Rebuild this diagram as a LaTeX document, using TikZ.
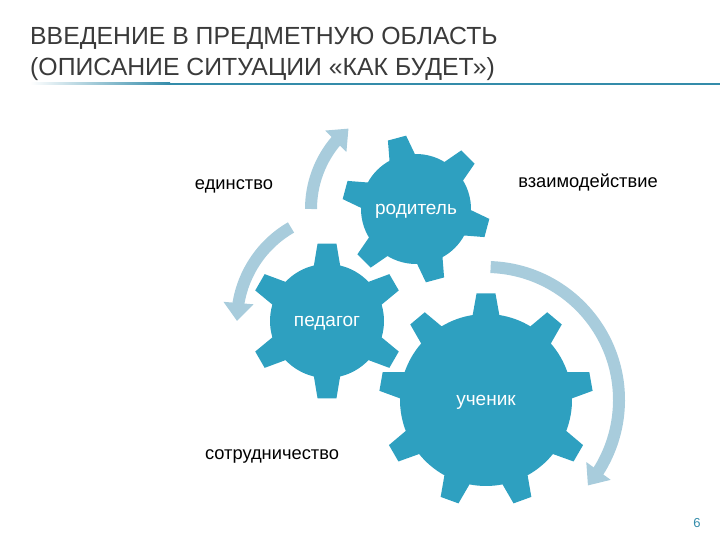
\documentclass[tikz,border=0pt]{standalone}
\usepackage{fontspec}
\setmainfont{Liberation Sans}
\usepackage{tikz}
\usetikzlibrary{arrows.meta, bending, backgrounds}

\definecolor{gearblue}{RGB}{46,160,192}
\definecolor{cycleblue}{RGB}{168,204,220}
\definecolor{titlegrey}{RGB}{58,58,58}
\definecolor{ruleblue}{RGB}{52,140,170}

% gear: centre, teeth, first tooth angle, body radius, tip radius
\newcommand{\drawgear}[5]{%
  \pgfmathsetmacro{\gstep}{360/#2}%
  \pgfmathsetmacro{\gbase}{atan(13.5/#4)}%
  \pgfmathsetmacro{\gtip}{atan(9.5/#5)}%
  \fill[gear, shift={(#1)}] ({#3-\gbase}:#4)
    \foreach \k in {1,...,#2} {
      -- ({#3+(\k-1)*\gstep-\gtip}:#5) -- ({#3+(\k-1)*\gstep+\gtip}:#5)
      -- ({#3+(\k-1)*\gstep+\gbase}:#4)
      arc[start angle={#3+(\k-1)*\gstep+\gbase}, end angle={#3+\k*\gstep-\gbase}, radius=#4]
    } -- cycle;}

\begin{document}
\begin{tikzpicture}[x=1pt, y=1pt]
% Styles
\tikzstyle{gear} = [fill=gearblue]
\tikzstyle{gearlabel} = [text=white, inner sep=0pt, text depth=0pt, font=\fontsize{19}{22}\selectfont]
\tikzstyle{cyclelabel} = [text=black, inner sep=0pt, text depth=0pt, font=\fontsize{18.3}{22}\selectfont]
\tikzstyle{titleline} = [text=titlegrey, inner sep=0pt, anchor=base west, font=\fontsize{24.8}{30}\selectfont]
\tikzstyle{cyclearrow} = [line width=12pt, draw=cycleblue, -{Triangle[width=29pt, length=18pt]}]

\useasboundingbox (0,0) rectangle (720,540);

% Title
\node (title) [titleline] at (30,495) {ВВЕДЕНИЕ В ПРЕДМЕТНУЮ ОБЛАСТЬ};
\node (subtitle) [titleline] at (30,464) {(ОПИСАНИЕ СИТУАЦИИ «КАК БУДЕТ»)};
\shade[left color=white, right color=ruleblue] (30,455) rectangle (170,457);
\fill[ruleblue] (170,455) rectangle (720,457);

% Nodes
\node (roditel) [gearlabel] at (416,331) {родитель};
\node (pedagog) [gearlabel] at (327,219) {педагог};
\node (uchenik) [gearlabel] at (486,140) {ученик};
\node (unity) [cyclelabel] at (234,355) {единство};
\node (interaction) [cyclelabel] at (588,359) {взаимодействие};
\node (cooperation) [cyclelabel] at (272,85) {сотрудничество};
\node (pagenum) [text=ruleblue, font=\fontsize{13}{15}\selectfont] at (697,17) {6};

% Gears
\begin{scope}[on background layer]
\drawgear{roditel}{6}{105}{55}{74}
\drawgear{pedagog}{6}{90}{57}{78}
\drawgear{uchenik}{9}{90}{86}{107}
\end{scope}

% Arrows
\draw [cyclearrow] (roditel.center) ++(180:105) arc[start angle=180, end angle=130, radius=105];
\draw [cyclearrow] ([xshift=18]pedagog.center) ++(120:108) arc[start angle=120, end angle=180, radius=108];
\draw [cyclearrow] (uchenik.center) ++(88:133) arc[start angle=88, end angle=-40, radius=133];
\end{tikzpicture}
\end{document}
